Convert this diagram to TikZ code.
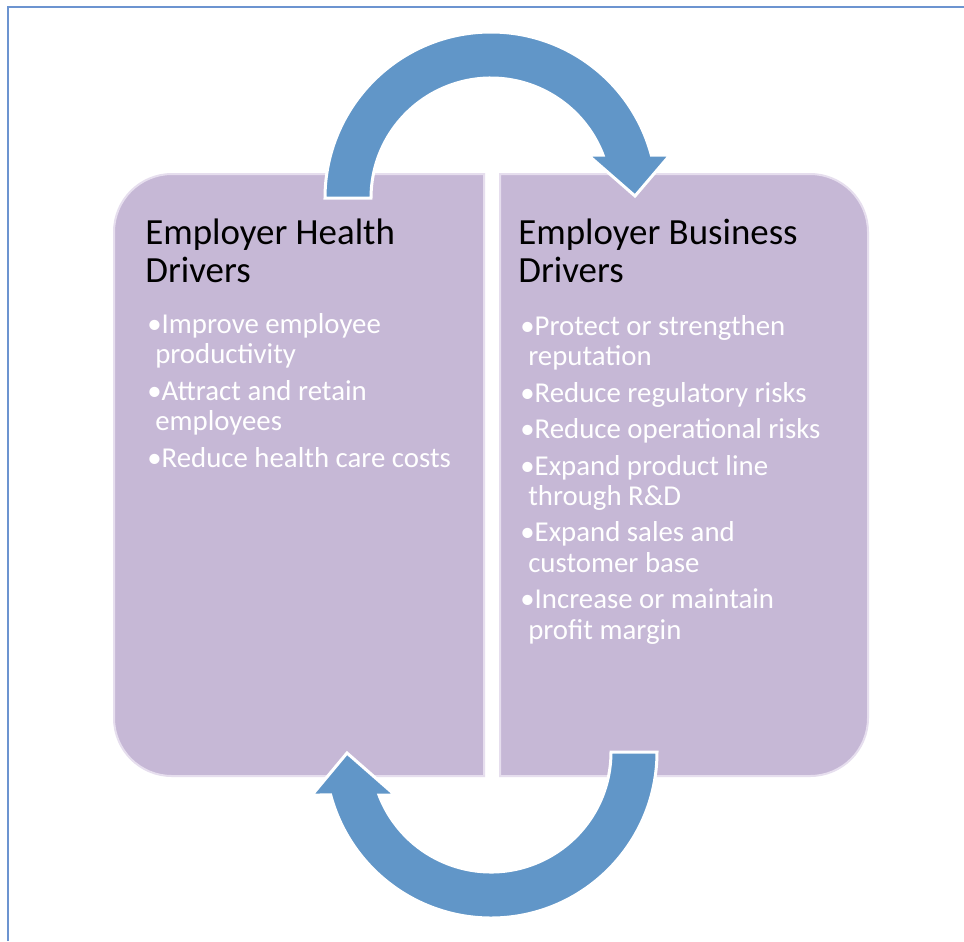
\documentclass[tikz,border=0pt]{standalone}
\usepackage{fontspec}
\setmainfont{Carlito}

\definecolor{boxfill}{RGB}{198,184,214}
\definecolor{boxline}{RGB}{230,222,238}
\definecolor{arrowblue}{RGB}{97,150,200}
\definecolor{frameblue}{RGB}{108,148,208}

\tikzset{
  driverbox/.style={fill=boxfill, draw=boxline, line width=0.04cm},
  cyclearrow/.style={fill=arrowblue, draw=white, line width=0.06cm},
  boxtitle/.style={anchor=base west, inner sep=0pt, align=left,
    font=\fontsize{21}{21.5}\selectfont},
  boxlist/.style={anchor=base west, inner sep=0pt, align=left, text=white,
    font=\fontsize{16.4}{17.3}\selectfont}
}

\begin{document}
\begin{tikzpicture}[x=0.02cm,y=-0.02cm]
  % Page
  \fill[white] (0,0) rectangle (964,941);
  \useasboundingbox (0,0) rectangle (964,941);
  \draw[frameblue,line width=0.03cm] (8,941) -- (8,7) -- (964,7);

  % Left box, rounded on the outer side
  \draw[driverbox] (484,174) -- (172,174)
    arc[start angle=270,end angle=180,radius=58] -- (114,718)
    arc[start angle=180,end angle=90,radius=58] -- (484,776) -- cycle;

  % Right box
  \draw[driverbox] (500,174) -- (810,174)
    arc[start angle=270,end angle=360,radius=58] -- (868,718)
    arc[start angle=0,end angle=90,radius=58] -- (500,776) -- cycle;

  % Upper arrow, health -> business
  \coordinate (upc) at (491,198);
  \draw[cyclearrow] (325,198) arc[start angle=180,end angle=345,radius=166]
    -- (670,155) -- (635,196) -- (588,155)
    -- ([shift={(339:120)}]upc) arc[start angle=339,end angle=180,radius=120]
    -- cycle;

  % Lower arrow, business -> health
  \coordinate (loc) at (491,752);
  \draw[cyclearrow] (657,752) arc[start angle=0,end angle=165,radius=166]
    -- (312,795) -- (347,753) -- (395,795)
    -- ([shift={(159:120)}]loc) arc[start angle=159,end angle=0,radius=120]
    -- cycle;

  % Titles (placed by the baseline of their last line)
  \node[boxtitle] (health) at (145,282) {Employer Health\\Drivers};
  \node[boxtitle] (business) at (518,282) {Employer Business\\Drivers};

  % Bullet lists
  \node[boxlist] (healthlist) at (147,467) {%
    •Improve employee\\
    \hspace*{4.5pt}productivity\\[3.4pt]
    •Attract and retain\\
    \hspace*{4.5pt}employees\\[3.4pt]
    •Reduce health care costs};
  \node[boxlist] (businesslist) at (520,639) {%
    •Protect or strengthen\\
    \hspace*{4.5pt}reputation\\[3.4pt]
    •Reduce regulatory risks\\[3.4pt]
    •Reduce operational risks\\[3.4pt]
    •Expand product line\\
    \hspace*{4.5pt}through R\&D\\[3.4pt]
    •Expand sales and\\
    \hspace*{4.5pt}customer base\\[3.4pt]
    •Increase or maintain\\
    \hspace*{4.5pt}profit margin};
\end{tikzpicture}
\end{document}
